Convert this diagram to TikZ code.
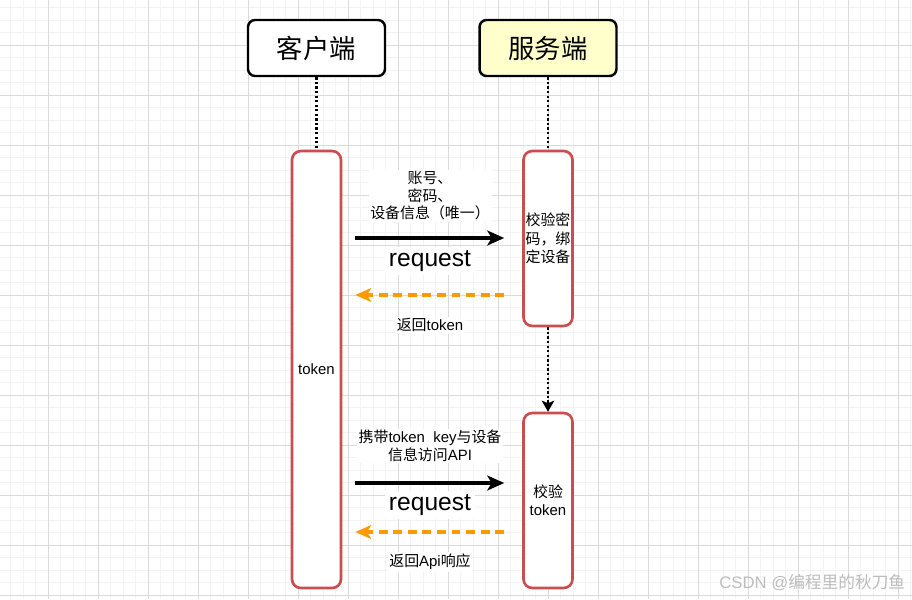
\documentclass[tikz,border=0pt]{standalone}
\usepackage{fontspec}
\setmainfont{Liberation Sans}
\newfontfamily\cjk{Noto Sans CJK SC}
\newcommand{\zh}[1]{{\cjk #1}}
\usetikzlibrary{arrows.meta, positioning}
\definecolor{cred}{HTML}{C94F4F}
\definecolor{corange}{HTML}{FF9900}
\definecolor{cyellow}{HTML}{FFFFCC}
\definecolor{cgridmin}{HTML}{F3F3F3}
\definecolor{cgridmaj}{HTML}{DADADA}
\definecolor{cmark}{HTML}{BDBDBD}
\tikzset{
  every picture/.style={line width=1pt},
  party/.style={draw=black, fill=#1, rounded corners=4pt, line width=1.4pt, minimum width=2.74cm, minimum height=1.12cm, font=\cjk\fontsize{15}{18}\selectfont},
  party/.default=white,
  lifebar/.style={draw=cred, fill=white, rounded corners=5pt, line width=1.5pt, minimum width=0.98cm, inner sep=1pt, align=center, font=\fontsize{8.5}{10.5}\selectfont},
  lifeline/.style={line width=1.5pt, dash pattern=on 1.3pt off 1.3pt},
  reqarrow/.style={-{Stealth[length=0.34cm, width=0.3cm, inset=0.09cm]}, line width=1.8pt},
  resarrow/.style={-{Stealth[length=0.32cm, width=0.28cm, inset=0.09cm]}, draw=corange, line width=1.8pt, dash pattern=on 5pt off 3.3pt},
  lbl/.style={fill=white, inner sep=1pt, align=center, font=\fontsize{8.5}{10}\selectfont},
  biglbl/.style={fill=white, inner sep=2pt, font=\fontsize{14}{16}\selectfont},
}

\begin{document}
\begin{tikzpicture}[x=0.02cm, y=-0.02cm]
  \useasboundingbox (0,0) rectangle (912,599);
  % background grid
  \begin{scope}
    \clip (0,0) rectangle (912,599);
    \fill[white] (0,0) rectangle (912,599);
    \foreach \i in {-4,...,69}
      \draw[cgridmin, line width=0.5pt] ({48+12.5*\i},0) -- ++(0,599);
    \foreach \i in {-4,...,44}
      \draw[cgridmin, line width=0.5pt] (0,{45+12.5*\i}) -- ++(912,0);
    \foreach \i in {-1,...,17}
      \draw[cgridmaj, line width=0.5pt] ({48+50*\i},0) -- ++(0,599);
    \foreach \i in {-1,...,11}
      \draw[cgridmaj, line width=0.5pt] (0,{45+50*\i}) -- ++(912,0);
  \end{scope}

  \node[party] (client) at (316.5,48) {客户端};
  \node[party=cyellow] (server) at (548,48) {服务端};

  \node[lifebar, minimum height=8.74cm] (cbar) at (316.5,369.5) {\raisebox{-1.5pt}{token}};
  \node[lifebar, minimum height=3.5cm] (chk1) at (548,238.5) {\zh{校验密}\\\zh{码，绑}\\\zh{定设备}};
  \node[lifebar, minimum height=3.5cm] (chk2) at (548,500.5) {\zh{校验}\\token};

  \draw[lifeline] (client) -- (cbar);
  \draw[lifeline] (server) -- (chk1);
  \draw[lifeline, -{Stealth[length=0.22cm, width=0.25cm, inset=0.05cm]}] (chk1) -- (chk2);

  % first round
  \coordinate (req1) at (430,238);
  \coordinate (res1) at (430,295);
  \node[lbl] (ask1) at (430,196) {\zh{账号、}\\\zh{密码、}\\\zh{设备信息（唯一）}};
  \node[biglbl] (rq1) at (430,261) {request};
  \node[lbl] (back1) at (430,325) {\zh{返回}token};
  \draw[reqarrow, shorten <=0.26cm, shorten >=0.36cm] (cbar.east |- req1) -- (chk1.west |- req1);
  \draw[resarrow, shorten <=0.36cm, shorten >=0.26cm] (chk1.west |- res1) -- (cbar.east |- res1);

  % second round
  \coordinate (req2) at (430,483);
  \coordinate (res2) at (430,532);
  \node[lbl] (ask2) at (430,446) {\zh{携带}token~~key\zh{与设备}\\\zh{信息访问}API};
  \node[biglbl] (rq2) at (430,505) {request};
  \node[lbl] (back2) at (430,562) {\zh{返回}Api\zh{响应}};
  \draw[reqarrow, shorten <=0.26cm, shorten >=0.36cm] (cbar.east |- req2) -- (chk2.west |- req2);
  \draw[resarrow, shorten <=0.36cm, shorten >=0.26cm] (chk2.west |- res2) -- (cbar.east |- res2);

  \node[anchor=east, text=cmark, inner sep=0pt, font=\fontsize{9.5}{11}\selectfont] (mark) at (906,583) {CSDN @\zh{编程里的秋刀鱼}};
\end{tikzpicture}
\end{document}
